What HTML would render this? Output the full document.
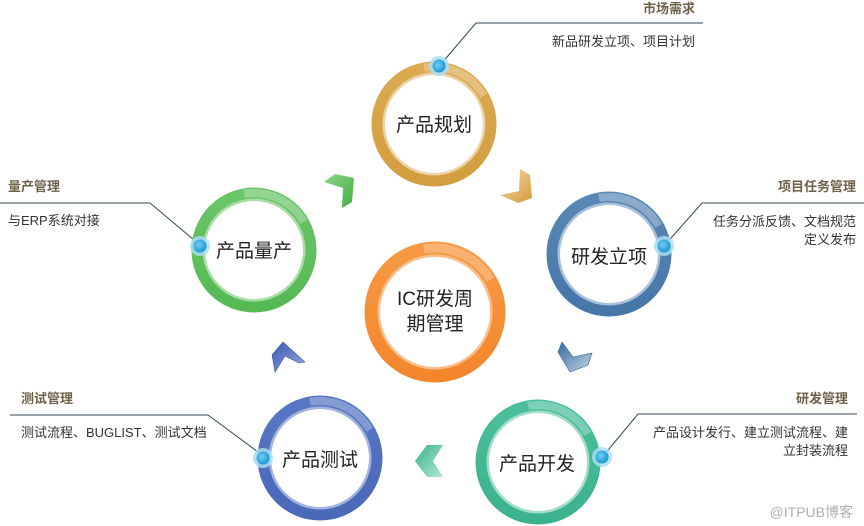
<!DOCTYPE html>
<html>
<head>
<meta charset="utf-8">
<style>
html,body{margin:0;padding:0;background:#fff;}
svg{display:block;}
text{font-family:"Liberation Sans","Noto Sans CJK SC",sans-serif;}
.lbl{font-size:13px;font-weight:bold;fill:#6e6148;}
.sub{font-size:13px;fill:#333;}
.ct{font-size:19px;fill:#222;}
</style>
</head>
<body>
<svg width="864" height="526" viewBox="0 0 864 526" xmlns="http://www.w3.org/2000/svg">
<defs>
  <radialGradient id="dotg" cx="0.4" cy="0.4" r="0.6">
    <stop offset="0" stop-color="#6fd0f2"/>
    <stop offset="1" stop-color="#1f95d2"/>
  </radialGradient>
  <linearGradient id="gGold" x1="0" y1="0" x2="0" y2="1">
    <stop offset="0" stop-color="#dcaa52"/><stop offset="1" stop-color="#d29d3e"/>
  </linearGradient>
  <linearGradient id="gBlue" x1="0" y1="0" x2="0" y2="1">
    <stop offset="0" stop-color="#5a88b6"/><stop offset="1" stop-color="#4576a8"/>
  </linearGradient>
  <linearGradient id="gOr" x1="0" y1="0" x2="0" y2="1">
    <stop offset="0" stop-color="#f79a45"/><stop offset="1" stop-color="#f3852a"/>
  </linearGradient>
  <linearGradient id="gGr" x1="0" y1="0" x2="0" y2="1">
    <stop offset="0" stop-color="#6cc56a"/><stop offset="1" stop-color="#55b953"/>
  </linearGradient>
  <linearGradient id="gInd" x1="0" y1="0" x2="0" y2="1">
    <stop offset="0" stop-color="#5877c4"/><stop offset="1" stop-color="#4a67b8"/>
  </linearGradient>
  <linearGradient id="gTeal" x1="0" y1="0" x2="0" y2="1">
    <stop offset="0" stop-color="#4dbf9c"/><stop offset="1" stop-color="#39b28d"/>
  </linearGradient>
  <linearGradient id="cGr" x1="0" y1="0" x2="1" y2="1">
    <stop offset="0" stop-color="#8fd58d"/><stop offset="1" stop-color="#3fae3c"/>
  </linearGradient>
  <linearGradient id="cGold" x1="0" y1="0" x2="1" y2="1">
    <stop offset="0" stop-color="#f3dcae"/><stop offset="1" stop-color="#d49a3a"/>
  </linearGradient>
  <linearGradient id="cInd" x1="0" y1="0" x2="1" y2="1">
    <stop offset="0" stop-color="#3a58b0"/><stop offset="1" stop-color="#9aa9de"/>
  </linearGradient>
  <linearGradient id="cBlue" x1="0" y1="0" x2="1" y2="1">
    <stop offset="0" stop-color="#2f6aa2"/><stop offset="1" stop-color="#c8d6e6"/>
  </linearGradient>
  <linearGradient id="cTeal" x1="0" y1="0" x2="1" y2="1">
    <stop offset="0" stop-color="#34b28b"/><stop offset="1" stop-color="#b5e6d6"/>
  </linearGradient>
</defs>

<!-- connector lines -->
<g stroke="#2d4a57" stroke-width="1" fill="none">
  <polyline points="441,64 476,23 703,23"/>
  <polyline points="664,246 702,203 864,203"/>
  <polyline points="0,203 150,203 194,240"/>
  <polyline points="10,415 208,415 258,452"/>
  <polyline points="604,455 638,414 857,414"/>
</g>

<!-- rings -->
<!-- gold 产品规划 -->
<g>
  <circle cx="434" cy="124" r="62.5" fill="url(#gGold)"/>
  <circle cx="434" cy="124" r="57" fill="none" stroke="#fff" stroke-opacity="0.28" stroke-width="8" stroke-dasharray="70 400" transform="rotate(-100 434 124)"/>
  <circle cx="434" cy="124" r="51.5" fill="#ecd3a4"/>
  <circle cx="434" cy="124" r="49" fill="#fff"/>
  <text class="ct" x="434" y="131" text-anchor="middle">产品规划</text>
</g>
<!-- blue 研发立项 -->
<g>
  <circle cx="609" cy="254" r="62.5" fill="url(#gBlue)"/>
  <circle cx="609" cy="254" r="57" fill="none" stroke="#fff" stroke-opacity="0.3" stroke-width="8" stroke-dasharray="70 400" transform="rotate(-100 609 254)"/>
  <circle cx="609" cy="254" r="51.5" fill="#a9c0da"/>
  <circle cx="609" cy="254" r="49" fill="#fff"/>
  <text class="ct" x="609" y="263" text-anchor="middle">研发立项</text>
</g>
<!-- orange center -->
<g>
  <circle cx="435" cy="312" r="70.5" fill="url(#gOr)"/>
  <circle cx="435" cy="312" r="64" fill="none" stroke="#fff" stroke-opacity="0.25" stroke-width="9" stroke-dasharray="78 500" transform="rotate(-100 435 312)"/>
  <circle cx="435" cy="312" r="57.5" fill="#f9c08e"/>
  <circle cx="435" cy="312" r="55" fill="#fff"/>
  <text class="ct" x="435" y="305" text-anchor="middle">IC研发周</text>
  <text class="ct" x="435" y="330" text-anchor="middle">期管理</text>
</g>
<!-- green 产品量产 -->
<g>
  <circle cx="254" cy="250" r="62.5" fill="url(#gGr)"/>
  <circle cx="254" cy="250" r="57" fill="none" stroke="#fff" stroke-opacity="0.28" stroke-width="8" stroke-dasharray="70 400" transform="rotate(-100 254 250)"/>
  <circle cx="254" cy="250" r="51.5" fill="#a9dca6"/>
  <circle cx="254" cy="250" r="49" fill="#fff"/>
  <text class="ct" x="254" y="257" text-anchor="middle">产品量产</text>
</g>
<!-- indigo 产品测试 -->
<g>
  <circle cx="320" cy="458" r="62.5" fill="url(#gInd)"/>
  <circle cx="320" cy="458" r="57" fill="none" stroke="#fff" stroke-opacity="0.28" stroke-width="8" stroke-dasharray="70 400" transform="rotate(-100 320 458)"/>
  <circle cx="320" cy="458" r="51.5" fill="#a4b4e0"/>
  <circle cx="320" cy="458" r="49" fill="#fff"/>
  <text class="ct" x="320" y="466" text-anchor="middle">产品测试</text>
</g>
<!-- teal 产品开发 -->
<g>
  <circle cx="538" cy="462" r="62.5" fill="url(#gTeal)"/>
  <circle cx="538" cy="462" r="57" fill="none" stroke="#fff" stroke-opacity="0.28" stroke-width="8" stroke-dasharray="70 400" transform="rotate(-100 538 462)"/>
  <circle cx="538" cy="462" r="51.5" fill="#a2dcca"/>
  <circle cx="538" cy="462" r="49" fill="#fff"/>
  <text class="ct" x="537" y="470" text-anchor="middle">产品开发</text>
</g>

<!-- chevrons -->
<polygon points="324,182 335,174 354,178 352,202 342,208 343,188" fill="url(#cGr)"/>
<polygon points="520,169 530,175 532,198 518,203 500,195 519,191" fill="url(#cGold)"/>
<polygon points="275,372 272,355 283,342 305,362 299,363 285,356" fill="url(#cInd)" stroke="#3a56a8" stroke-width="0.6"/>
<polygon points="562,342 573,357 592,353 588,365 570,372 558,352" fill="url(#cBlue)" stroke="#2f6296" stroke-width="0.6"/>
<polygon points="415,461 427,445 443,445 433,461 443,477 427,477" fill="url(#cTeal)"/>

<!-- dots -->
<g>
  <circle cx="439" cy="66" r="10" fill="#a6def2" fill-opacity="0.85"/>
  <circle cx="439" cy="66" r="6.5" fill="url(#dotg)"/>
  <circle cx="664" cy="246" r="10" fill="#a6def2" fill-opacity="0.85"/>
  <circle cx="664" cy="246" r="6.5" fill="url(#dotg)"/>
  <circle cx="200" cy="246" r="10" fill="#a6def2" fill-opacity="0.85"/>
  <circle cx="200" cy="246" r="6.5" fill="url(#dotg)"/>
  <circle cx="263" cy="458" r="10" fill="#a6def2" fill-opacity="0.85"/>
  <circle cx="263" cy="458" r="6.5" fill="url(#dotg)"/>
  <circle cx="602" cy="457" r="10" fill="#a6def2" fill-opacity="0.85"/>
  <circle cx="602" cy="457" r="6.5" fill="url(#dotg)"/>
</g>

<!-- labels -->
<text class="lbl" x="695" y="13" text-anchor="end">市场需求</text>
<text class="sub" x="695" y="46" text-anchor="end">新品研发立项、项目计划</text>

<text class="lbl" x="856" y="191" text-anchor="end">项目任务管理</text>
<text class="sub" x="856" y="226" text-anchor="end">任务分派反馈、文档规范</text>
<text class="sub" x="856" y="244" text-anchor="end">定义发布</text>

<text class="lbl" x="8" y="191">量产管理</text>
<text class="sub" x="8" y="225">与ERP系统对接</text>

<text class="lbl" x="21" y="403">测试管理</text>
<text class="sub" x="21" y="437">测试流程、BUGLIST、测试文档</text>

<text class="lbl" x="848" y="403" text-anchor="end">研发管理</text>
<text class="sub" x="848" y="437" text-anchor="end">产品设计发行、建立测试流程、建</text>
<text class="sub" x="848" y="455" text-anchor="end">立封装流程</text>

<text x="853" y="517" text-anchor="end" style="font-size:14px;fill:#b0b0b0;">@ITPUB博客</text>
</svg>
</body>
</html>
